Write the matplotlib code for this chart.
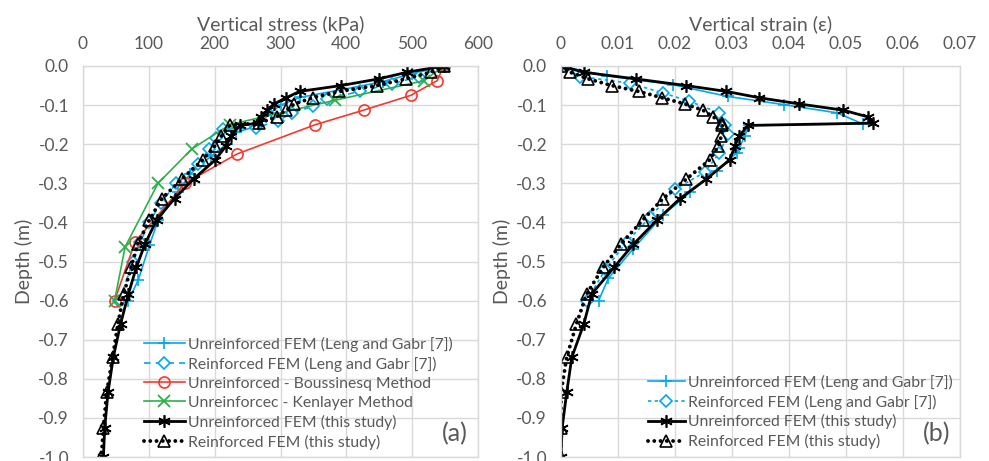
import matplotlib
matplotlib.use("Agg")
import matplotlib.pyplot as plt
from matplotlib.ticker import FuncFormatter

plt.rcParams['font.family'] = ['Lato', 'DejaVu Sans']
plt.rcParams['axes.unicode_minus'] = False

# ---------------- data: panel (a) vertical stress (kPa) ----------------
depth_fem = [0, -0.016, -0.033, -0.05, -0.065, -0.081, -0.097, -0.113, -0.13, -0.146, -0.152,
             -0.18, -0.205, -0.24, -0.289, -0.339, -0.393, -0.456, -0.515, -0.583, -0.66,
             -0.745, -0.835, -0.925, -1.0]
stress_unrf_fem = [548, 492, 449, 392, 329, 309, 290, 280, 270, 266, 238,
                   225, 217, 201, 168, 139, 112, 94, 81, 69, 57,
                   46, 38, 33, 31]
stress_rf_fem = [548, 528, 490, 446, 389, 349, 321, 309, 294, 268, 223,
                 210, 200, 182, 150, 120, 101, 83, 73, 62, 53,
                 45, 36, 31, 28]

depth_leng_unrf_a = [0, -0.02, -0.04, -0.06, -0.08, -0.1, -0.12, -0.14, -0.155, -0.17, -0.2,
                     -0.23, -0.277, -0.323, -0.395, -0.458, -0.547, -0.6]
stress_leng_unrf = [548, 500, 455, 395, 330, 300, 285, 272, 262, 232, 218,
                    195, 162, 144, 114, 101, 84, 69]
depth_leng_rf_a = [0, -0.027, -0.045, -0.065, -0.085, -0.103, -0.12, -0.14, -0.158, -0.162, -0.184,
                   -0.213, -0.25, -0.3, -0.35, -0.4, -0.45, -0.5, -0.6]
stress_leng_rf = [548, 511, 470, 420, 370, 349, 318, 296, 263, 213, 202,
                  192, 174, 142, 118, 101, 87, 76, 55]

depth_bous = [0, -0.0375, -0.075, -0.1125, -0.15, -0.225, -0.3, -0.45, -0.6]
stress_bous = [548, 538, 498, 427, 353, 234, 155, 79, 48]

depth_kenl = [0, -0.0375, -0.0875, -0.15, -0.2125, -0.3, -0.4625, -0.6]
stress_kenl = [548, 518, 383, 223, 165, 114, 64, 48]

# ---------------- data: panel (b) vertical strain ----------------
strain_unrf_fem = [0, 0.004, 0.0131, 0.0219, 0.029, 0.0347, 0.0418, 0.0495, 0.0538, 0.0547, 0.0328,
                   0.0312, 0.0305, 0.0296, 0.0255, 0.0209, 0.0169, 0.0127, 0.0093, 0.0054, 0.004,
                   0.0019, 0.001, 0.0002, 0.0]
strain_rf_fem = [0, 0.0016, 0.0048, 0.0089, 0.0136, 0.0177, 0.0217, 0.0249, 0.0267, 0.0283, 0.0283,
                 0.0281, 0.0276, 0.0261, 0.022, 0.0179, 0.0144, 0.0105, 0.0074, 0.0045, 0.0027,
                 0.001, 0.0, 0.0, 0.0]

depth_leng_unrf_b = [0, -0.025, -0.048, -0.078, -0.099, -0.12, -0.148, -0.152, -0.18, -0.209, -0.222,
                     -0.268, -0.323, -0.382, -0.467, -0.543, -0.6]
strain_leng_unrf = [0, 0.008, 0.0197, 0.0293, 0.0392, 0.0485, 0.0529, 0.0330, 0.0322, 0.0313, 0.0308,
                    0.0273, 0.0226, 0.0179, 0.0127, 0.0083, 0.0066]
depth_leng_rf_b = [0, -0.027, -0.044, -0.069, -0.09, -0.12, -0.15, -0.175, -0.222, -0.272,
                   -0.315, -0.387, -0.45, -0.52, -0.6]
strain_leng_rf = [0, 0.0034, 0.0121, 0.0179, 0.0225, 0.0278, 0.0287, 0.0293, 0.0278, 0.0252,
                  0.02, 0.0156, 0.0115, 0.0078, 0.0045]

stress_ticks = [0, 100, 200, 300, 400, 500, 600]
strain_ticks = [0, 0.01, 0.02, 0.03, 0.04, 0.05, 0.06, 0.07]
depth_ticks = [0.0, -0.1, -0.2, -0.3, -0.4, -0.5, -0.6, -0.7, -0.8, -0.9, -1.0]

# ---------------- styles ----------------
GRAY_TXT = '#595959'
GRID = '#D9D9D9'
BLUE = '#00A9EE'
RED = '#F23A2F'
GREEN = '#2DB04A'
STAR = (6, 2, 0)

W, H = 989, 461
fig = plt.figure(figsize=(W / 100, H / 100), dpi=100)
axA = fig.add_axes([83 / W, (H - 457) / H, 395 / W, 391 / H])
axB = fig.add_axes([561 / W, (H - 457) / H, 399 / W, 391 / H])


def style(ax, xticks, xlabel, xfmt):
    ax.set_ylim(-1.0, 0.0)
    ax.set_xlim(xticks[0], xticks[-1])
    ax.set_xticks(xticks)
    ax.set_yticks(depth_ticks)
    ax.xaxis.set_major_formatter(FuncFormatter(xfmt))
    ax.yaxis.set_major_formatter(FuncFormatter(lambda v, p: f"{v:.1f}"))
    ax.xaxis.tick_top()
    ax.xaxis.set_label_position('top')
    ax.tick_params(length=0, labelsize=12.5, labelcolor=GRAY_TXT, pad=10)
    ax.grid(True, color=GRID, lw=1.0)
    ax.set_axisbelow(True)
    for s in ax.spines.values():
        s.set_color(GRID)
        s.set_linewidth(1.0)
    ax.set_xlabel(xlabel, fontsize=14, color=GRAY_TXT, labelpad=4)
    ax.set_ylabel('Depth (m)', fontsize=14, color=GRAY_TXT, labelpad=4)


style(axA, stress_ticks, 'Vertical stress (kPa)', lambda v, p: f"{v:.0f}")
style(axB, strain_ticks, 'Vertical strain (ε)', lambda v, p: "0" if v == 0 else f"{v:.2f}")

dotted = (0, (0.01, 1.6))

# panel (a)
axA.plot(stress_leng_unrf, depth_leng_unrf_a, color=BLUE, lw=1.2, marker='+', ms=8, mew=1.2,
         label='Unreinforced FEM (Leng and Gabr [7])')
axA.plot(stress_leng_rf, depth_leng_rf_a, color=BLUE, lw=1.2, ls=(0, (4, 3)), marker='D', ms=6,
         mfc='white', mew=1.2, label='Reinforced FEM (Leng and Gabr [7])')
axA.plot(stress_bous, depth_bous, color=RED, lw=1.2, marker='o', ms=8, mfc='none', mew=1.2,
         label='Unreinforced - Boussinesq Method')
axA.plot(stress_kenl, depth_kenl, color=GREEN, lw=1.2, marker='x', ms=8, mew=1.3,
         label='Unreinforcec - Kenlayer Method')
axA.plot(stress_unrf_fem, depth_fem, color='black', lw=2.0, marker=STAR, ms=9, mew=1.2,
         label='Unreinforced FEM (this study)')
axA.plot(stress_rf_fem, depth_fem, color='black', lw=2.8, ls=dotted, dash_capstyle='round',
         marker='^', ms=8, mfc='none', mew=1.2, label='Reinforced FEM (this study)')

legA = axA.legend(loc='center', bbox_to_anchor=(0.545, 0.163), frameon=False, fontsize=11.3,
                  labelcolor=GRAY_TXT, handlelength=2.6, handletextpad=0.2, labelspacing=0.32,
                  borderpad=0.1)
axA.text(0.975, 0.03, '(a)', transform=axA.transAxes, ha='right', va='bottom', fontsize=18,
         color=GRAY_TXT)

# panel (b)
axB.plot(strain_leng_unrf, depth_leng_unrf_b, color=BLUE, lw=1.2, marker='+', ms=8, mew=1.2,
         label='Unreinforced FEM (Leng and Gabr [7])')
axB.plot(strain_leng_rf, depth_leng_rf_b, color=BLUE, lw=1.2, ls=(0, (2, 2)), marker='D', ms=6,
         mfc='white', mew=1.2, label='Reinforced FEM (Leng and Gabr [7])')
axB.plot(strain_unrf_fem, depth_fem, color='black', lw=2.0, marker=STAR, ms=9, mew=1.2,
         label='Unreinforced FEM (this study)')
axB.plot(strain_rf_fem, depth_fem, color='black', lw=2.8, ls=dotted, dash_capstyle='round',
         marker='^', ms=8, mfc='none', mew=1.2, label='Reinforced FEM (this study)')

legB = axB.legend(loc='center', bbox_to_anchor=(0.6, 0.115), frameon=False, fontsize=11.3,
                  labelcolor=GRAY_TXT, handlelength=2.3, handletextpad=0.2, labelspacing=0.3,
                  borderpad=0.1)
axB.text(0.975, 0.03, '(b)', transform=axB.transAxes, ha='right', va='bottom', fontsize=18,
         color=GRAY_TXT)

fig.savefig('out.png', dpi=100)
